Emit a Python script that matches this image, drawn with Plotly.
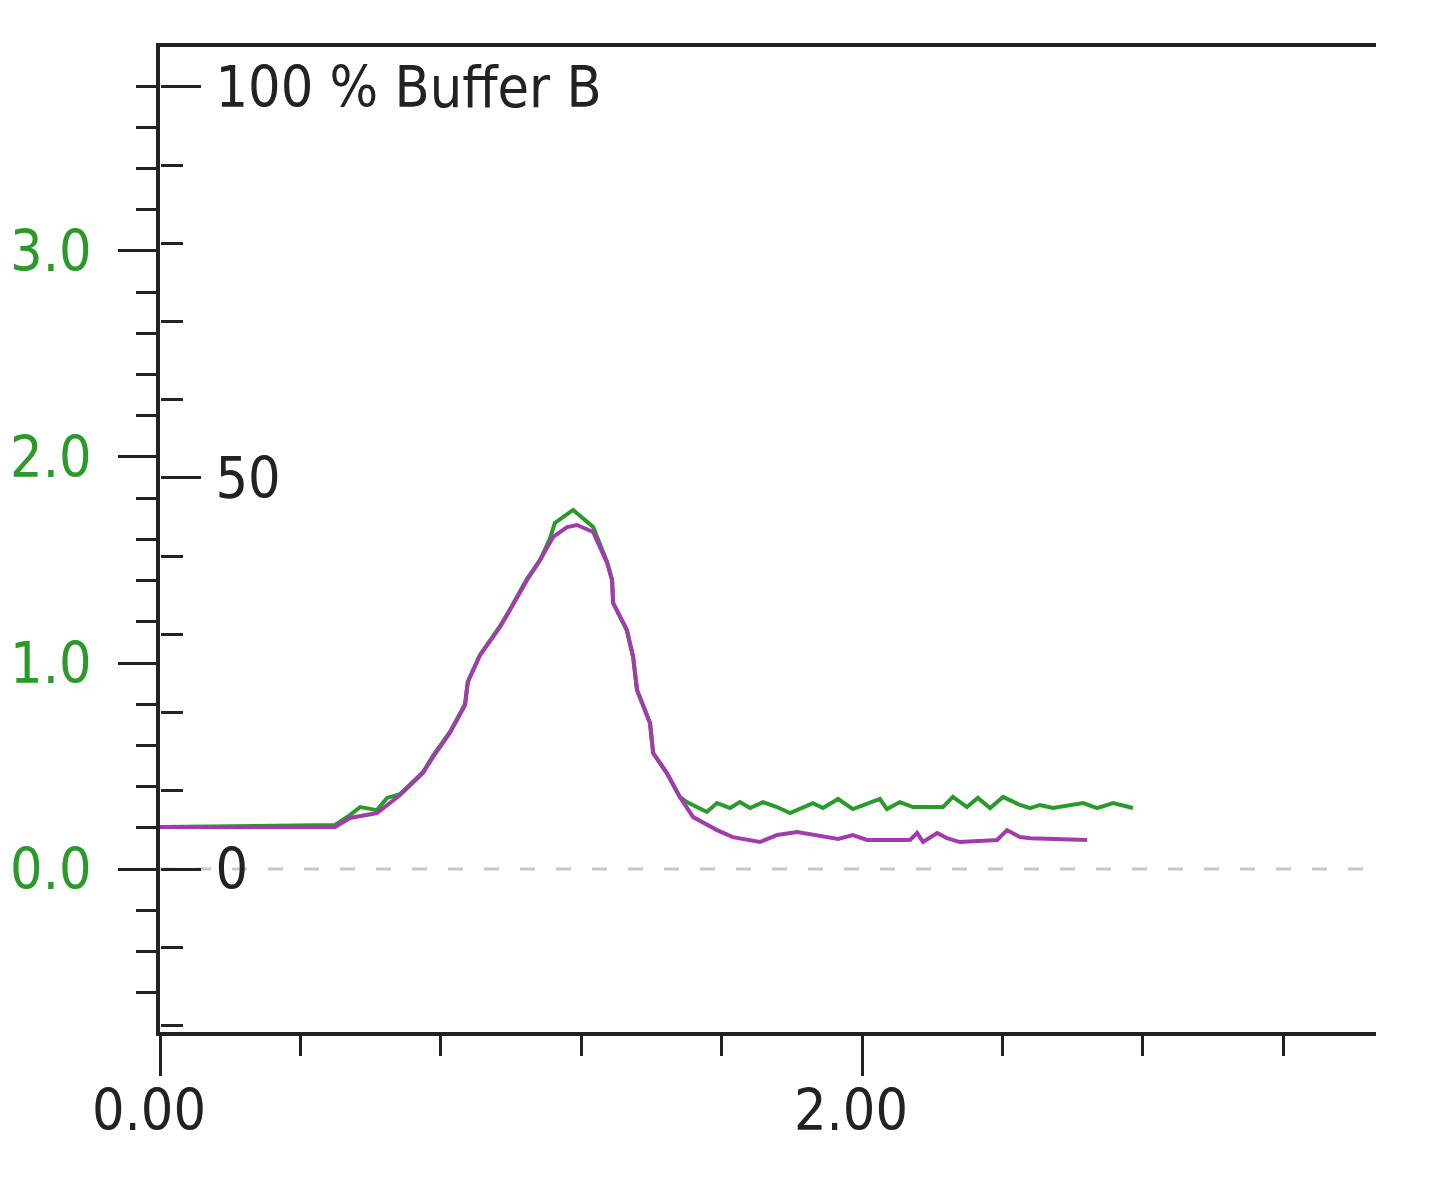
import plotly.graph_objects as go

# Elution profile (minutes vs absorbance, left axis)
green_x = [0.000, 0.328, 0.499, 0.541, 0.570, 0.618, 0.647, 0.684, 0.749, 0.778, 0.826, 0.869, 0.877,
           0.912, 0.969, 0.997, 1.046, 1.083, 1.110, 1.125, 1.160, 1.177, 1.234, 1.274, 1.288, 1.291,
           1.330, 1.348, 1.359, 1.396, 1.405, 1.444, 1.481, 1.501, 1.558, 1.587, 1.624, 1.652, 1.681,
           1.718, 1.758, 1.795, 1.860, 1.889, 1.932, 1.974, 2.051, 2.071, 2.108, 2.145, 2.231, 2.259,
           2.299, 2.330, 2.365, 2.402, 2.450, 2.479, 2.507, 2.544, 2.630, 2.670, 2.715, 2.772]
green_y = [0.204, 0.210, 0.214, 0.262, 0.301, 0.286, 0.345, 0.364, 0.470, 0.550, 0.665, 0.800, 0.910,
           1.040, 1.180, 1.260, 1.410, 1.500, 1.600, 1.680, 1.720, 1.743, 1.660, 1.490, 1.403, 1.291,
           1.160, 1.029, 0.869, 0.709, 0.563, 0.466, 0.350, 0.325, 0.277, 0.320, 0.296, 0.325, 0.296,
           0.325, 0.301, 0.272, 0.320, 0.296, 0.340, 0.291, 0.340, 0.291, 0.325, 0.301, 0.301, 0.350,
           0.301, 0.345, 0.296, 0.350, 0.311, 0.296, 0.311, 0.296, 0.320, 0.296, 0.320, 0.296]

purple_x = [0.000, 0.328, 0.499, 0.541, 0.618, 0.684, 0.749, 0.778, 0.826, 0.869, 0.877, 0.912, 0.969,
            0.997, 1.046, 1.083, 1.120, 1.160, 1.188, 1.234, 1.274, 1.288, 1.291, 1.330, 1.348, 1.359,
            1.396, 1.405, 1.444, 1.481, 1.519, 1.587, 1.632, 1.709, 1.758, 1.815, 1.872, 1.932, 1.974,
            2.014, 2.137, 2.157, 2.174, 2.214, 2.242, 2.279, 2.385, 2.413, 2.450, 2.479, 2.641]
purple_y = [0.204, 0.204, 0.204, 0.248, 0.272, 0.359, 0.466, 0.544, 0.660, 0.796, 0.908, 1.039, 1.175,
            1.257, 1.403, 1.500, 1.612, 1.660, 1.670, 1.636, 1.485, 1.403, 1.291, 1.160, 1.029, 0.869,
            0.709, 0.563, 0.466, 0.350, 0.252, 0.189, 0.155, 0.131, 0.165, 0.180, 0.165, 0.146, 0.165,
            0.141, 0.141, 0.175, 0.131, 0.175, 0.150, 0.131, 0.141, 0.189, 0.155, 0.150, 0.141]

x_tickvals = [0, 2]
x_ticktext = ["0.00", "2.00"]
y_tickvals = [0, 1, 2, 3]
y_ticktext = ["0.0", "1.0", "2.0", "3.0"]
b_tickvals = [0, 50, 100]
b_ticktext = ["0", "50", "100 % Buffer B"]

GREEN = "#2a9a2a"
PURPLE = "#a23cae"
INK = "#222222"
FONT = "DejaVu Sans Condensed, sans-serif"
FS = 57

fig = go.Figure()
fig.add_trace(go.Scatter(x=green_x, y=green_y, mode="lines", line=dict(color=GREEN, width=4),
                         showlegend=False, yaxis="y"))
fig.add_trace(go.Scatter(x=purple_x, y=purple_y, mode="lines", line=dict(color=PURPLE, width=4),
                         showlegend=False, yaxis="y"))
# invisible trace to activate the % Buffer B axis
fig.add_trace(go.Scatter(x=[0], y=[0], mode="markers", marker=dict(opacity=0),
                         showlegend=False, hoverinfo="skip", yaxis="y2"))

fig.add_shape(type="line", xref="x", yref="y2", x0=0, x1=3.4644, y0=0, y1=0,
              line=dict(color="#c8c8c8", width=3, dash="15px,21px"), layer="below")

fig.update_layout(
    width=1413, height=1163,
    margin=dict(l=152, r=45, t=39, b=139, autoexpand=False),
    paper_bgcolor="white", plot_bgcolor="white",
    font=dict(family=FONT, size=FS, color=INK),
    xaxis=dict(range=[0, 3.4644], showgrid=False, zeroline=False, automargin=False,
               showline=True, linecolor=INK, linewidth=4, mirror=True,
               tickvals=x_tickvals, ticktext=x_ticktext,
               ticks="outside", ticklen=40, tickwidth=3, tickcolor=INK,
               ticklabelstandoff=-14, ticklabelshift=-11,
               tickfont=dict(family=FONT, size=FS, color=INK),
               minor=dict(ticks="outside", ticklen=20, tickwidth=3, tickcolor=INK,
                          dtick=0.4, tick0=0, showgrid=False)),
    yaxis=dict(range=[-0.791, 3.990], showgrid=False, zeroline=False, automargin=False,
               showline=True, linecolor=INK, linewidth=4,
               tickvals=y_tickvals, ticktext=y_ticktext,
               ticks="outside", ticklen=38, tickwidth=3, tickcolor=INK,
               ticklabelstandoff=15,
               tickfont=dict(family=FONT, size=FS, color=GREEN),
               minor=dict(ticks="outside", ticklen=20, tickwidth=3, tickcolor=INK,
                          dtick=0.2, tick0=0, showgrid=False)),
    yaxis2=dict(range=[-20.84, 105.1], overlaying="y", side="right", anchor="free", position=0,
                showgrid=False, zeroline=False, showline=False, automargin=False,
                tickvals=b_tickvals, ticktext=b_ticktext,
                ticks="outside", ticklen=40, tickwidth=3, tickcolor=INK,
                ticklabelstandoff=3,
                tickfont=dict(family=FONT, size=FS, color=INK),
                minor=dict(ticks="outside", ticklen=22, tickwidth=3, tickcolor=INK,
                           dtick=10, tick0=0, showgrid=False)),
)

fig.write_html("out.html")
